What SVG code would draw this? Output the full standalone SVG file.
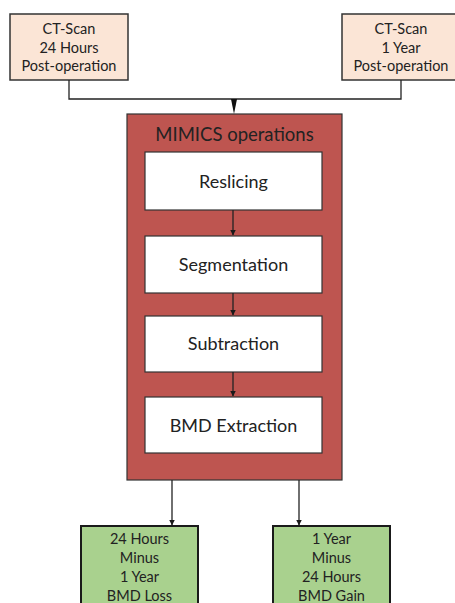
<svg xmlns="http://www.w3.org/2000/svg" width="455" height="603" viewBox="0 0 455 603">
<defs>
<marker id="arr" markerWidth="7" markerHeight="7" refX="5.5" refY="3" orient="auto" markerUnits="userSpaceOnUse">
<path d="M0,0 L6,3 L0,6 Z" fill="#1a1a1a"/>
</marker>
<style>
text{font-family:"Lato","Open Sans","Liberation Sans",sans-serif;fill:#222;text-anchor:middle;}
.t{font-size:14.5px;}
.s{font-size:18px;}
.peach{fill:#FBE5D6;stroke:#333;stroke-width:1.5;}
.red{fill:#BE5550;stroke:#333;stroke-width:1.2;}
.white{fill:#FFFFFF;stroke:#333;stroke-width:1.2;}
.green{fill:#A9D18E;stroke:#1a1a1a;stroke-width:2;}
.c{fill:none;stroke:#222;stroke-width:1.3;}
</style>
</defs>
<rect width="455" height="603" fill="#fff"/>
<g id="ct24">
<rect class="peach" x="10" y="14" width="118" height="66"/>
<text class="t" x="69" y="34">CT-Scan</text>
<text class="t" x="69" y="53">24 Hours</text>
<text class="t" x="69" y="71">Post-operation</text>
</g>
<g id="ct1y">
<rect class="peach" x="342" y="14" width="120" height="66"/>
<text class="t" x="401" y="34">CT-Scan</text>
<text class="t" x="401" y="53">1 Year</text>
<text class="t" x="401" y="71">Post-operation</text>
</g>
<g id="mimics">
<rect class="red" x="127" y="114" width="215" height="366"/>
<text x="234.5" y="141" style="font-size:18.5px">MIMICS operations</text>
</g>
<g id="reslicing">
<rect class="white" x="145" y="152" width="177" height="58"/>
<text class="s" x="233.5" y="188">Reslicing</text>
</g>
<g id="segmentation">
<rect class="white" x="145" y="236" width="177" height="57"/>
<text class="s" x="233.5" y="271">Segmentation</text>
</g>
<g id="subtraction">
<rect class="white" x="145" y="316" width="177" height="56"/>
<text class="s" x="233.5" y="350">Subtraction</text>
</g>
<g id="bmd">
<rect class="white" x="145" y="397" width="177" height="56"/>
<text class="s" x="233.5" y="432">BMD Extraction</text>
</g>
<g id="loss">
<rect class="green" x="81" y="526" width="117" height="90"/>
<text class="t" x="139.5" y="544">24 Hours</text>
<text class="t" x="139.5" y="563">Minus</text>
<text class="t" x="139.5" y="582">1 Year</text>
<text class="t" x="139.5" y="601">BMD Loss</text>
</g>
<g id="gain">
<rect class="green" x="273" y="526" width="117" height="90"/>
<text class="t" x="331.5" y="544">1 Year</text>
<text class="t" x="331.5" y="563">Minus</text>
<text class="t" x="331.5" y="582">24 Hours</text>
<text class="t" x="331.5" y="601">BMD Gain</text>
</g>
<g id="connectors">
<path class="c" d="M69 80 V99 H401 V80"/>
<path d="M231 99 L237 99 L234 114 Z" fill="#111"/>
<path class="c" d="M233 210 V235" marker-end="url(#arr)"/>
<path class="c" d="M233 293 V315" marker-end="url(#arr)"/>
<path class="c" d="M233 372 V396" marker-end="url(#arr)"/>
<path class="c" d="M172 480 V525" marker-end="url(#arr)"/>
<path class="c" d="M299 480 V525" marker-end="url(#arr)"/>
</g>
</svg>
